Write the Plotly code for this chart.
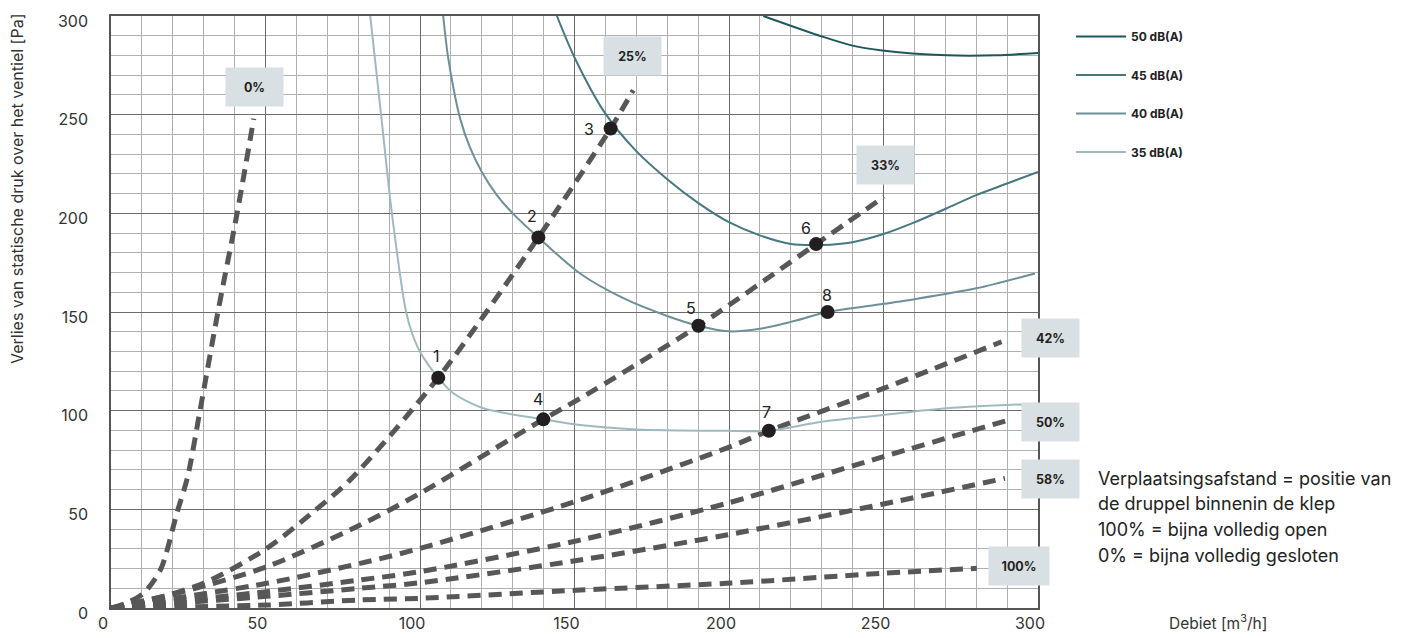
import plotly.graph_objects as go

# ---------------- data ----------------
# valve-opening curves (dashed): flow [m3/h] vs pressure loss [Pa]
open_labels = ["0%", "25%", "33%", "42%", "50%", "58%", "100%"]
flow_0 = [0, 5, 10.5, 16, 21.3, 24.8, 28.8, 34.6, 40.8, 46.2]
press_0 = [0, 2.5, 7.4, 19.3, 48, 66.5, 100, 150, 200, 248]
flow_25 = [0, 10.5, 29.9, 50.4, 65.5, 77.3, 105.9, 138.3, 161.7, 169]
press_25 = [0, 3.2, 12.5, 30.2, 48.8, 64.8, 116.7, 187.8, 243, 262.4]
flow_33 = [0, 23.4, 50.4, 80.6, 100, 139.9, 151.8, 190.1, 228.2, 250.2]
press_33 = [0, 8.3, 20.9, 42, 58.1, 95.6, 106.2, 143, 184.4, 208.4]
flow_42 = [0, 50.4, 80.6, 100, 151.8, 199.2, 212.9, 250, 288.2]
press_42 = [0, 12.5, 22.6, 30.2, 54.7, 81, 89.8, 111.3, 134.9]
flow_50 = [0, 50.4, 80.6, 100, 151.8, 199.2, 250, 290.4]
press_50 = [0, 8.3, 14.2, 18.4, 34.4, 53, 76.7, 95.2]
flow_58 = [0, 50.4, 80.6, 100, 151.8, 199.2, 250, 289.3]
press_58 = [0, 5.9, 10, 12.8, 24.3, 37, 52.7, 65.7]
flow_100 = [0, 50.4, 80.6, 100, 151.8, 199.2, 250, 280.2]
press_100 = [0, 1.5, 4.1, 4.9, 9.1, 12.5, 17.6, 20.1]

# sound-level curves (solid)
db_labels = ["50 dB(A)", "45 dB(A)", "40 dB(A)", "35 dB(A)"]
flow_db50 = [211.1, 230.5, 240, 248.9, 270.4, 286.6, 300]
press_db50 = [300, 289.4, 285, 282.7, 280.1, 280.1, 281.3]
flow_db45 = [144.3, 150, 160, 170, 180, 190, 200, 210, 220, 230, 240, 250, 260, 270, 280, 290, 300]
press_db45 = [300, 279, 250.5, 231.5, 217.3, 205.3, 195.5, 188.8, 184.5, 184, 185.4, 189.5, 195.4, 202.2, 209.2, 215.1, 221]
flow_db40 = [107.5, 109, 111, 113, 116, 120, 125, 130, 138.3, 151.8, 165.8, 180, 190.1, 199.8, 210, 220, 231.9, 245, 260, 280, 299]
press_db40 = [300, 280, 262, 248, 234, 221, 209, 200, 187.8, 169.5, 157, 148, 143, 140.2, 141.5, 145, 150, 153, 156.5, 162, 169.5]
flow_db35 = [83.9, 87.4, 90.9, 95.5, 97.5, 100, 105.9, 110.8, 120.5, 140, 151.8, 170, 199.2, 212.9, 230.1, 250, 270.4, 300]
press_db35 = [300, 250, 200, 150, 139, 129.9, 116.7, 108.8, 101.2, 95.6, 92.7, 90.5, 89.8, 89.8, 94.4, 97.8, 101.2, 103.5]

# numbered operating points
point_labels = ["1", "2", "3", "4", "5", "6", "7", "8"]
point_flow = [105.9, 138.3, 161.7, 139.9, 190.1, 228.2, 212.9, 231.9]
point_press = [116.7, 187.8, 243, 95.6, 143, 184.4, 89.8, 150]

x_ticks = [0, 50, 100, 150, 200, 250, 300]
y_ticks = [0, 50, 100, 150, 200, 250, 300]

note_lines = [
    "Verplaatsingsafstand = positie van",
    "de druppel binnenin de klep",
    "100% = bijna volledig open",
    "0% = bijna volledig gesloten",
]

# ---------------- layout helpers ----------------
PAGE_OFF = 8            # default body margin of the html page
W, H = 1394, 630        # figure size (page is 1402x638)
L, R, T, B = 111, 1038, 16, 608   # plot area in page pixels


def xp(px):
    return (px - L) / (R - L)


def yp(py):
    return (B - py) / (B - T)


FONT = "Inter, Liberation Sans, Arial, sans-serif"
TXT = "#222222"

fig = go.Figure()

dash_sets = [
    (flow_0, press_0), (flow_25, press_25), (flow_33, press_33),
    (flow_42, press_42), (flow_50, press_50), (flow_58, press_58),
    (flow_100, press_100),
]
for (fx, fy), name in zip(dash_sets, open_labels):
    fig.add_trace(go.Scatter(
        x=fx, y=fy, mode="lines", name=name, showlegend=False,
        line=dict(color="#575757", width=5, dash="13px,8px", shape="spline", smoothing=0.8),
        hoverinfo="skip",
    ))

db_sets = [
    (flow_db50, press_db50, "#1f565c"),
    (flow_db45, press_db45, "#457880"),
    (flow_db40, press_db40, "#6d9098"),
    (flow_db35, press_db35, "#a0b9be"),
]
for i, ((fx, fy, col), name) in enumerate(zip(db_sets, db_labels)):
    fig.add_trace(go.Scatter(
        x=fx, y=fy, mode="lines", name=name, legendgroup=f"g{i}",
        line=dict(color=col, width=2, shape="spline", smoothing=0.8),
    ))

fig.add_trace(go.Scatter(
    x=point_flow, y=point_press, mode="markers", showlegend=False,
    marker=dict(size=14, color="#231f20"), cliponaxis=False,
))

annotations = []
# number labels next to points
offsets = [(-2, 22), (-6, 21), (-22, -1), (-5, 20), (-7, 18), (-10, 16), (-2, 19), (-1, 17)]
for lab, fx, fy, (dx, dy) in zip(point_labels, point_flow, point_press, offsets):
    annotations.append(dict(
        x=fx, y=fy, xref="x", yref="y", text=lab, showarrow=False,
        xshift=dx, yshift=dy, font=dict(family=FONT, size=16, color=TXT),
    ))

# label boxes for valve openings (pixel centres, width)
box_pos = [(254.5, 87, 57), (632, 56, 57), (885.5, 165, 57), (1050.5, 338, 57),
           (1050.5, 422, 57), (1050.5, 479, 57), (1019, 566, 60)]
for lab, (cx, cy, w) in zip(open_labels, box_pos):
    annotations.append(dict(
        x=xp(cx), y=yp(cy), xref="paper", yref="paper", text=lab, showarrow=False,
        xanchor="center", yanchor="middle", width=w, height=38, borderpad=0,
        bgcolor="#d9e0e3", font=dict(family=FONT, size=12.5, color=TXT, weight="bold"),
    ))

# note text
for i, line in enumerate(note_lines):
    annotations.append(dict(
        x=xp(1096), y=yp(478 + i * 25.7), xref="paper", yref="paper", text=line,
        showarrow=False, xanchor="left", yanchor="middle",
        font=dict(family=FONT, size=18, color=TXT),
    ))

# axis titles
annotations.append(dict(
    x=xp(1218), y=yp(622), xref="paper", yref="paper", text="Debiet [m<sup>3</sup>/h]",
    showarrow=False, xanchor="center", yanchor="middle",
    font=dict(family=FONT, size=15.5, color="#333333"),
))
annotations.append(dict(
    x=xp(17), y=yp(12), xref="paper", yref="paper",
    text="Verlies van statische druk over het ventiel [Pa]", textangle=-90,
    showarrow=False, xanchor="center", yanchor="top",
    font=dict(family=FONT, size=16, color="#333333"),
))

axis_common = dict(
    showline=True, linecolor="#555555", linewidth=1.5, mirror=True,
    showgrid=True, gridcolor="#6b6b6b", gridwidth=1.2, zeroline=False,
    ticks="", tickfont=dict(family=FONT, size=16, color="#333333"),
    ticklabeloverflow="allow",
    minor=dict(dtick=10, showgrid=True, gridcolor="#b0b0b0", gridwidth=1.3),
)

fig.update_layout(
    width=W, height=H,
    margin=dict(l=L - PAGE_OFF, r=W - (R - PAGE_OFF), t=T - PAGE_OFF,
                b=H - (B - PAGE_OFF), autoexpand=False),
    paper_bgcolor="white", plot_bgcolor="white",
    xaxis=dict(range=[0, 300], tickvals=x_ticks, dtick=50, ticklabelshift=-8,
               ticklabelstandoff=0, **axis_common),
    yaxis=dict(range=[0, 300], tickvals=y_ticks, dtick=50, ticklabelshift=5,
               ticklabelstandoff=18, **axis_common),
    legend=dict(x=xp(1071), y=yp(22), xanchor="left", yanchor="top",
                font=dict(family=FONT, size=12, color=TXT, weight="bold"),
                tracegroupgap=19.5, bgcolor="rgba(0,0,0,0)", itemwidth=50),
    annotations=annotations,
    showlegend=True,
)

fig.write_html("out.html")
